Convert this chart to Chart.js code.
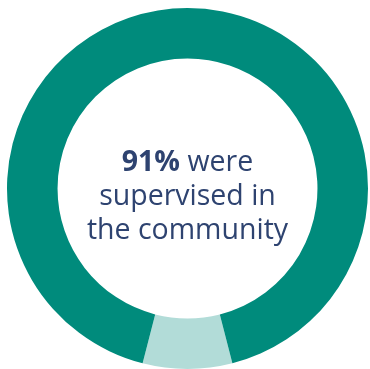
<!DOCTYPE html>
<html>
<head>
<meta charset="utf-8">
<script src="https://cdn.jsdelivr.net/npm/chart.js@4"></script>
<style>
  html, body { margin: 0; padding: 0; background: #ffffff; overflow: hidden; width: 370px; height: 369px; }
  #wrap { position: absolute; left: 0; top: 0; width: 375px; height: 377px; }
  #c { position: absolute; left: 0; top: 0; }
  #label {
    position: absolute; left: 0; width: 375px; top: 143px;
    text-align: center; font-family: "Open Sans", sans-serif; font-size: 28.5px;
    line-height: 34px; color: #2e4370;
  }
  #label b { font-weight: 700; }
</style>
</head>
<body>
<div id="wrap">
  <canvas id="c" width="375" height="377"></canvas>
  <div id="label"><b>91%</b> were<br>supervised in<br>the community</div>
</div>
<script>
const categories = ["Other", "Supervised in the community"];
const values = [8, 92];
const colors = ["#b2dcd8", "#008b7c"];

const total = values.reduce((a, b) => a + b, 0);
const rotation = 180 - (values[0] / total * 360) / 2;

new Chart(document.getElementById("c"), {
  type: "doughnut",
  data: {
    labels: categories,
    datasets: [{
      data: values,
      backgroundColor: colors,
      borderWidth: 0,
      hoverOffset: 0
    }]
  },
  options: {
    responsive: false,
    animation: false,
    rotation: rotation,
    cutout: "72%",
    layout: { padding: 7 },
    events: [],
    plugins: {
      legend: { display: false },
      tooltip: { enabled: false }
    }
  }
});
</script>
</body>
</html>
